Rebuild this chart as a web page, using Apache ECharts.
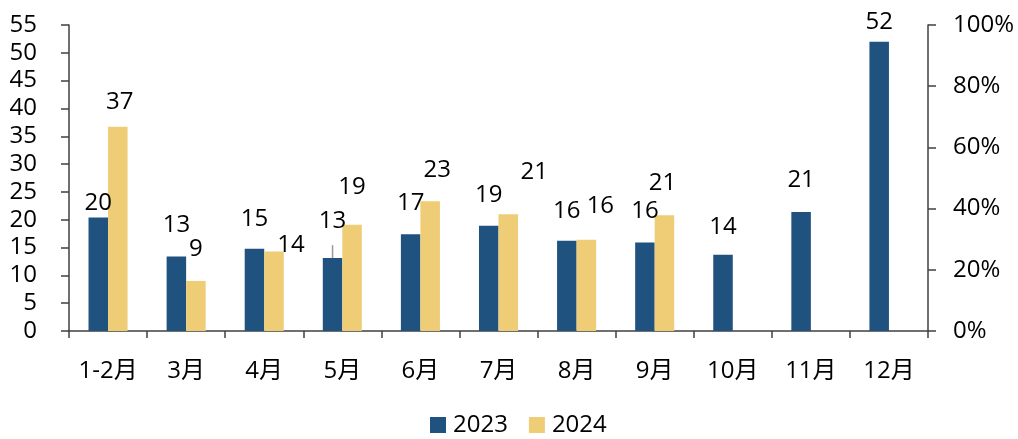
<!DOCTYPE html>
<html>
<head>
    <meta charset="utf-8">
    <title>ECharts</title>
    <script src="https://cdn.jsdelivr.net/npm/echarts@6/dist/echarts.min.js"></script>
    <style>
        html, body { margin: 0; padding: 0; background: #fff; }
    </style>
</head>
<body>
<div id="main" style="width: 1018px;height:439px;"></div>
<script type="text/javascript">
    var months = ['1-2月', '3月', '4月', '5月', '6月', '7月', '8月', '9月', '10月', '11月', '12月'];
    var v2023 = [20.4, 13.4, 14.8, 13.1, 17.4, 18.9, 16.2, 15.9, 13.7, 21.4, 52.0];
    var v2024 = [36.7, 9.0, 14.3, 19.1, 23.3, 21.0, 16.4, 20.8, null, null, null];
    var leftTicks = [0, 55, 5];
    var rightTicks = [0, 1, 0.2];
    // the little grey leader mark above the 5月 2023 bar
    var leader = [['5月', 13.1]];

    // label nudges
    var off2023 = [[0, -2], [0, -19], [0, -18], [0, -25], [0, -19], [0, -19], [0, -18], [0, -19], [0, -16], [0, -20], [0, -8]];
    var off2024 = [[2, -13], [0, -20], [17, 6], [0, -26], [7, -19], [26, -30], [14, -22], [-2, -20]];

    var font = "'Open Sans', 'Noto Sans CJK SC', sans-serif";
    var fs = 24;

    function build(vals, offs) {
        return vals.map(function (v, i) {
            if (v == null) return '-';
            return { value: v, label: { offset: offs[i] } };
        });
    }

    var myChart = echarts.init(document.getElementById('main'));
    var option = {
        animation: false,
        textStyle: { fontFamily: font },
        grid: { left: 69, right: 90, top: 25, bottom: 108 },
        legend: {
            top: 413,
            left: 430,
            padding: 0,
            itemWidth: 16,
            itemHeight: 16,
            itemGap: 21,
            icon: 'rect',
            textStyle: { fontSize: fs, color: '#000', fontFamily: font, padding: [0, 0, 0, 2] },
            data: ['2023', '2024']
        },
        xAxis: {
            type: 'category',
            data: months,
            axisLine: { lineStyle: { color: '#404040', width: 1.5 } },
            axisTick: { show: true, length: 7, lineStyle: { color: '#404040', width: 1.5 } },
            axisLabel: { color: '#000', fontSize: fs, margin: 28, fontFamily: font }
        },
        yAxis: [{
            type: 'value',
            min: leftTicks[0],
            max: leftTicks[1],
            interval: leftTicks[2],
            splitLine: { show: false },
            axisLine: { show: true, lineStyle: { color: '#404040', width: 1.5 } },
            axisTick: { show: true, length: 8, lineStyle: { color: '#404040', width: 1.5 } },
            axisLabel: { color: '#000', fontSize: fs, margin: 32, fontFamily: font }
        }, {
            type: 'value',
            min: rightTicks[0],
            max: rightTicks[1],
            interval: rightTicks[2],
            splitLine: { show: false },
            axisLine: { show: true, lineStyle: { color: '#404040', width: 1.5 } },
            axisTick: { show: true, length: 8, lineStyle: { color: '#404040', width: 1.5 } },
            axisLabel: {
                color: '#000', fontSize: fs, margin: 25, fontFamily: font,
                formatter: function (v) { return Math.round(v * 100) + '%'; }
            }
        }],
        series: [{
            name: '2023',
            type: 'bar',
            data: build(v2023, off2023),
            barGap: '0%',
            barCategoryGap: '50%',
            itemStyle: { color: '#20527F' },
            label: {
                show: true, position: 'top', distance: 0, fontSize: fs, color: '#000', fontFamily: font,
                formatter: function (p) { return Math.round(p.value); }
            }
        }, {
            name: '2024',
            type: 'bar',
            data: build(v2024, off2024),
            barGap: '0%',
            barCategoryGap: '50%',
            itemStyle: { color: '#EECD76' },
            label: {
                show: true, position: 'top', distance: 0, fontSize: fs, color: '#000', fontFamily: font,
                formatter: function (p) { return Math.round(p.value); }
            }
        }, {
            name: 'leader',
            type: 'custom',
            data: leader,
            silent: true,
            z: 5,
            renderItem: function (params, api) {
                var p = api.coord([api.value(0), api.value(1)]);
                var band = api.size([1, 0])[0];
                var x = p[0] - band / 8;
                return {
                    type: 'line',
                    shape: { x1: x, y1: p[1], x2: x, y2: p[1] - 13 },
                    style: { stroke: '#999', lineWidth: 1.5 }
                };
            }
        }]
    };
    myChart.setOption(option);
</script>
</body>
</html>
